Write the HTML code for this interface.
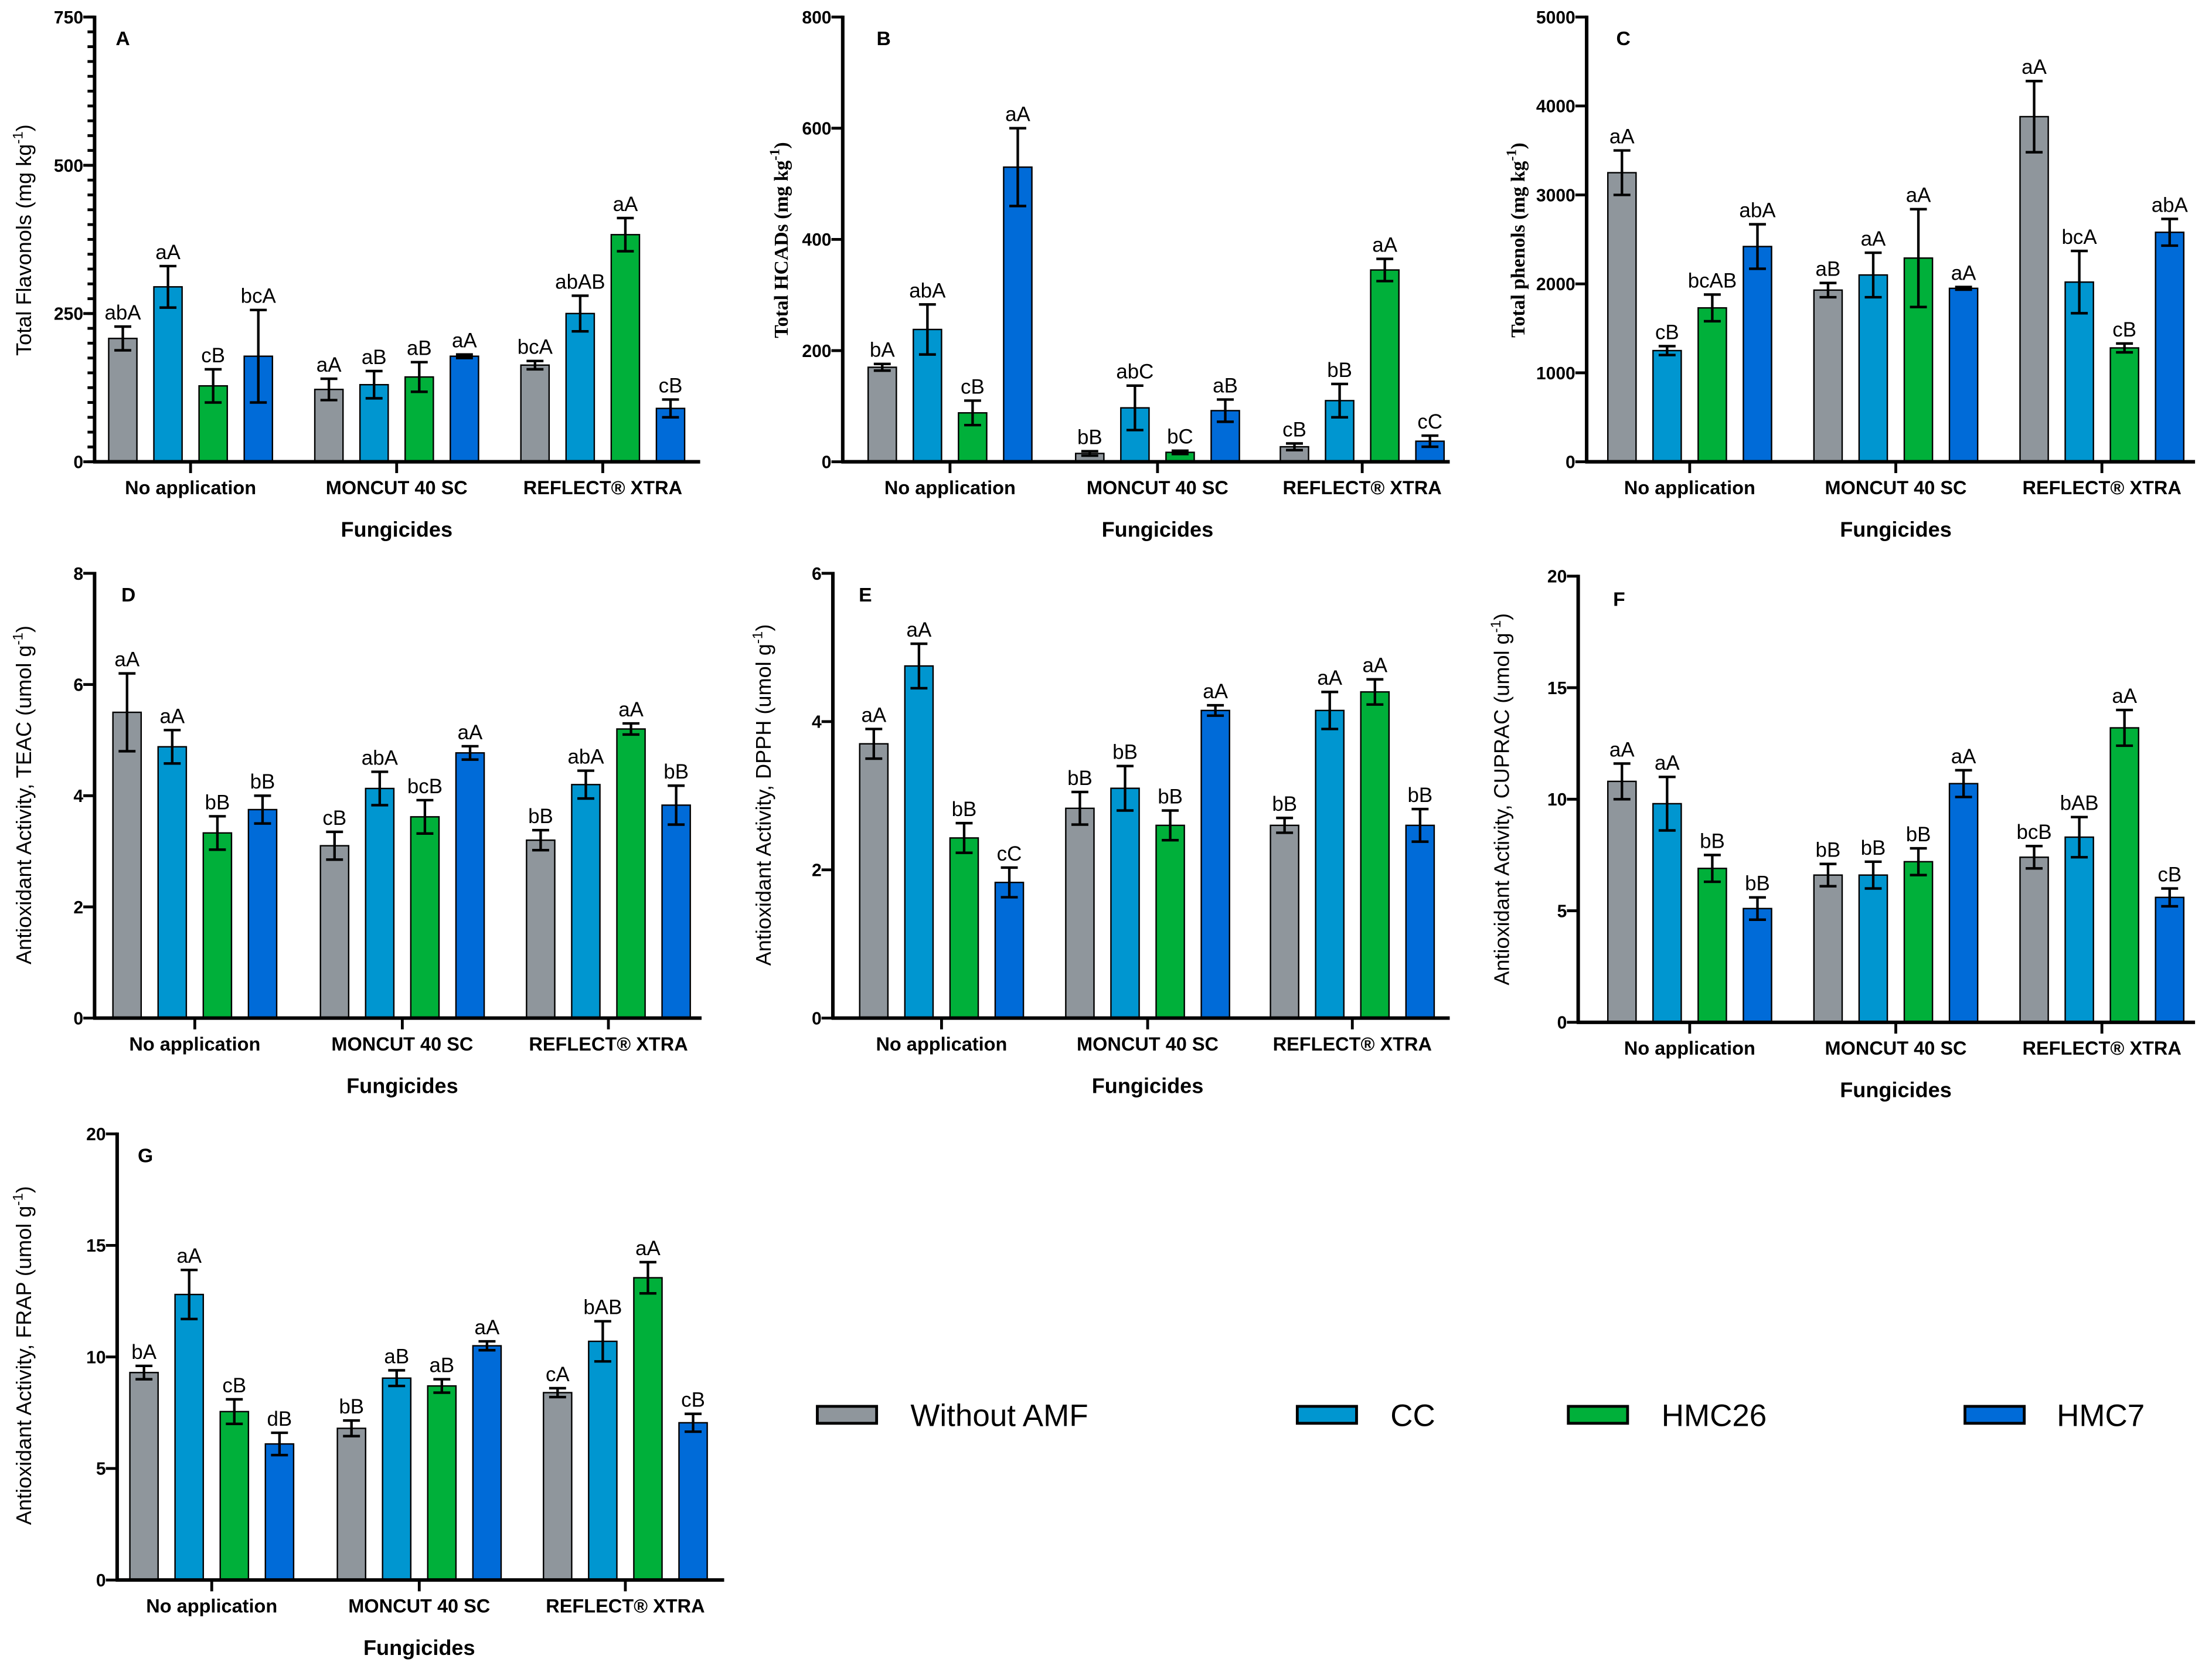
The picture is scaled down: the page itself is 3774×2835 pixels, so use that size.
<!DOCTYPE html>
<html><head><meta charset="utf-8"><style>
html,body{margin:0;padding:0;background:#fff}
svg{display:block}
text{font-family:"Liberation Sans",Arial,sans-serif}
</style></head><body>
<svg id="chart" width="3774" height="2835" viewBox="0 0 1567 1177" xmlns="http://www.w3.org/2000/svg"></svg>
<script>
const categories = ["No application","MONCUT 40 SC","REFLECT® XTRA"];
const seriesNames = ["Without AMF","CC","HMC26","HMC7"];
const colors = ["#8f969c","#0096d0","#00b03a","#006bd8"];
const valsA = [[208,295,128,178],[122,130,143,178],[163,250,383,90]];
const errA  = [[20,35,28,78],[18,23,25,3],[7,30,28,15]];
const lblA  = [["abA","aA","cB","bcA"],["aA","aB","aB","aA"],["bcA","abAB","aA","cB"]];
const ticksA = [0,250,500,750];
const valsB = [[170,238,88,530],[15,97,17,92],[27,110,345,37]];
const errB  = [[6,45,22,70],[4,40,3,20],[6,30,20,10]];
const lblB  = [["bA","abA","cB","aA"],["bB","abC","bC","aB"],["cB","bB","aA","cC"]];
const ticksB = [0,200,400,600,800];
const valsC = [[3250,1250,1730,2420],[1930,2100,2290,1950],[3880,2020,1280,2580]];
const errC  = [[250,50,150,250],[80,250,550,15],[400,350,50,150]];
const lblC  = [["aA","cB","bcAB","abA"],["aB","aA","aA","aA"],["aA","bcA","cB","abA"]];
const ticksC = [0,1000,2000,3000,4000,5000];
const valsD = [[5.5,4.88,3.33,3.75],[3.1,4.13,3.62,4.77],[3.2,4.2,5.2,3.83]];
const errD  = [[0.7,0.3,0.3,0.25],[0.25,0.3,0.3,0.12],[0.18,0.25,0.1,0.35]];
const lblD  = [["aA","aA","bB","bB"],["cB","abA","bcB","aA"],["bB","abA","aA","bB"]];
const ticksD = [0,2,4,6,8];
const valsE = [[3.7,4.75,2.43,1.83],[2.83,3.1,2.6,4.15],[2.6,4.15,4.4,2.6]];
const errE  = [[0.2,0.3,0.2,0.2],[0.22,0.3,0.2,0.07],[0.1,0.25,0.17,0.22]];
const lblE  = [["aA","aA","bB","cC"],["bB","bB","bB","aA"],["bB","aA","aA","bB"]];
const ticksE = [0,2,4,6];
const valsF = [[10.8,9.8,6.9,5.1],[6.6,6.6,7.2,10.7],[7.4,8.3,13.2,5.6]];
const errF  = [[0.8,1.2,0.6,0.5],[0.5,0.6,0.6,0.6],[0.5,0.9,0.8,0.4]];
const lblF  = [["aA","aA","bB","bB"],["bB","bB","bB","aA"],["bcB","bAB","aA","cB"]];
const ticksF = [0,5,10,15,20];
const valsG = [[9.3,12.8,7.55,6.1],[6.8,9.05,8.7,10.5],[8.4,10.7,13.55,7.05]];
const errG  = [[0.3,1.1,0.55,0.5],[0.35,0.35,0.3,0.2],[0.2,0.9,0.7,0.4]];
const lblG  = [["bA","aA","cB","dB"],["bB","aB","aB","aA"],["cA","bAB","aA","cB"]];
const ticksG = [0,5,10,15,20];

const svg=document.getElementById('chart');
const NS="http://www.w3.org/2000/svg";
function mk(tag,attrs,parent){const e=document.createElementNS(NS,tag);for(const k in attrs)e.setAttribute(k,attrs[k]);(parent||svg).appendChild(e);return e;}
function txt(s,attrs,parent){const e=mk('text',attrs,parent);e.textContent=s;return e;}

const panels=[
 {id:'A',vals:valsA,err:errA,lbl:lblA,ticks:ticksA,minor:25,ax:67,top:12,bot:327,right:496,gc:[135,281,427],lx:87,ly:27,title:'Total Flavonols (mg kg',tx:17,ty:170,serif:false},
 {id:'B',vals:valsB,err:errB,lbl:lblB,ticks:ticksB,minor:0,ax:597,top:12,bot:327,right:1027,gc:[673,820,965],lx:626,ly:27,title:'Total HCADs (mg kg',tx:553,ty:170,serif:true},
 {id:'C',vals:valsC,err:errC,lbl:lblC,ticks:ticksC,minor:0,ax:1124,top:12,bot:327,right:1555,gc:[1197,1343,1489],lx:1150,ly:27,title:'Total phenols (mg kg',tx:1075,ty:170,serif:true},
 {id:'D',vals:valsD,err:errD,lbl:lblD,ticks:ticksD,minor:0,ax:67,top:406,bot:721,right:497,gc:[138,285,431],lx:91,ly:421,title:'Antioxidant Activity, TEAC (umol g',tx:17,ty:563,serif:false},
 {id:'E',vals:valsE,err:errE,lbl:lblE,ticks:ticksE,minor:0,ax:590,top:406,bot:721,right:1027,gc:[667,813,958],lx:613,ly:421,title:'Antioxidant Activity, DPPH (umol g',tx:541,ty:563,serif:false},
 {id:'F',vals:valsF,err:errF,lbl:lblF,ticks:ticksF,minor:0,ax:1118,top:408,bot:724,right:1555,gc:[1197,1343,1489],lx:1147,ly:424,title:'Antioxidant Activity, CUPRAC (umol g',tx:1064,ty:566,serif:false},
 {id:'G',vals:valsG,err:errG,lbl:lblG,ticks:ticksG,minor:0,ax:83,top:803,bot:1119,right:513,gc:[150,297,443],lx:103,ly:818,title:'Antioxidant Activity, FRAP (umol g',tx:17,ty:960,serif:false}
];

panels.forEach(p=>{
  const g=mk('g',{});
  
  
  const max=p.ticks[p.ticks.length-1];
  const y=v=>p.bot-(v/max)*(p.bot-p.top);
  p.vals.forEach((grp,gi)=>{
    grp.forEach((v,si)=>{
      const cx=p.gc[gi]+(si-1.5)*32;
      const r=mk('rect',{x:cx-10,y:y(v),width:20,height:p.bot-y(v),fill:colors[si],stroke:'#000','stroke-width':1},g);
      
      
      const e=p.err[gi][si];
      const eb=mk('path',{d:`M${cx} ${y(v+e)}V${y(v-e)}M${cx-6} ${y(v+e)}H${cx+6}M${cx-6} ${y(v-e)}H${cx+6}`,stroke:'#000','stroke-width':1.8,fill:'none'},g);
      
      
      const t=txt(p.lbl[gi][si],{x:cx,y:y(v+e)-5,'text-anchor':'middle','font-size':14.5,fill:'#000'},g);
      
      
    });
    const ct=txt(categories[gi],{x:p.gc[gi],y:p.bot+23,'text-anchor':'middle','font-size':13.5,'font-weight':'bold'},g);
    
    
    mk('line',{x1:p.gc[gi],x2:p.gc[gi],y1:p.bot,y2:p.bot+8,stroke:'#000','stroke-width':2},g);
  });
  const ya=mk('line',{x1:p.ax,x2:p.ax,y1:p.top-1,y2:p.bot+1,stroke:'#000','stroke-width':2.5},g);
  
  
  const xa=mk('line',{x1:p.ax-1,x2:p.right,y1:p.bot,y2:p.bot,stroke:'#000','stroke-width':2.5},g);
  
  
  if(p.minor){for(let v=0;v<=max;v+=p.minor){mk('line',{x1:p.ax-5,x2:p.ax,y1:y(v),y2:y(v),stroke:'#000','stroke-width':2},g);}}
  p.ticks.forEach(v=>{
    mk('line',{x1:p.ax-8,x2:p.ax,y1:y(v),y2:y(v),stroke:'#000','stroke-width':2},g);
    const t=txt(String(v),{x:p.ax-8,y:y(v)+4.5,'text-anchor':'end','font-size':12.5,'font-weight':'bold'},g);
    
    
  });
  const xt=txt('Fungicides',{x:p.gc[1],y:p.bot+53,'text-anchor':'middle','font-size':15,'font-weight':'bold'},g);
  
  
  const pl=txt(p.id,{x:p.lx,y:p.ly+5,'text-anchor':'middle','font-size':14,'font-weight':'bold'},g);
  
  
  const yt=txt(p.title,{x:p.tx+5,y:p.ty,transform:`rotate(-90 ${p.tx+5} ${p.ty})`,'text-anchor':'middle','font-size':p.serif?14:15,'font-weight':p.serif?'bold':'normal'},g);
  if(p.serif){yt.setAttribute('style','font-family:"Liberation Serif",serif');}
  const sup=mk('tspan',{dy:-6,'font-size':10},yt);sup.textContent='-1';
  const cl=mk('tspan',{dy:6},yt);cl.textContent=')';
  
  
});

const legX=[[579,645],[919,985],[1111,1177],[1392,1457]];
seriesNames.forEach((n,i)=>{
  const lg=mk('g',{});
  
  
  mk('rect',{x:legX[i][0],y:996,width:42,height:12,fill:colors[i],stroke:'#000','stroke-width':2},lg);
  txt(n,{x:legX[i][1],y:1010,'font-size':22},lg);
});
</script>
</body></html>
